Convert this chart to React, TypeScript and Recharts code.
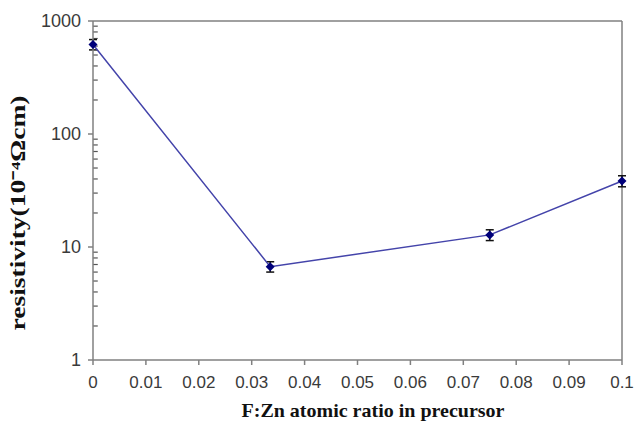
import {
  LineChart,
  Line,
  XAxis,
  YAxis,
  ErrorBar,
  ReferenceLine,
  Label,
} from 'recharts';

const ratio = [0, 0.0335, 0.075, 0.1];
const resistivity = [620, 6.7, 12.8, 38.4];
const resistivityErr = [65, 0.7, 1.4, 4.3];

const xTicks = [0, 0.01, 0.02, 0.03, 0.04, 0.05, 0.06, 0.07, 0.08, 0.09, 0.1];
const yMajorTicks = [1, 10, 100, 1000];
const yMinorSteps = [2, 3, 4, 5, 6, 7, 8, 9];

// minor log ticks between the decades
const yMinorTicks = yMajorTicks.slice(0, -1).flatMap((d) => yMinorSteps.map((s) => d * s));

const data = ratio.map((x, i) => ({
  x,
  rho: resistivity[i],
  err: resistivityErr[i],
}));

const AXIS_X = 93;
const axisColor = '#808080';
const tickFont = { fontFamily: 'Liberation Sans, Arial, sans-serif', fontSize: 17, fill: '#3a3a3a' };
const titleFont = { fontFamily: 'Liberation Serif, Times New Roman, serif', fontWeight: 700, fill: '#111' };

function Diamond(props: any) {
  const { cx, cy, index } = props;
  if (cx == null || cy == null) return null;
  const r = 4.5;
  return (
    <path
      key={`d-${index}`}
      d={`M${cx},${cy - r} L${cx + r},${cy} L${cx},${cy + r} L${cx - r},${cy} Z`}
      fill="#00007a"
    />
  );
}

export default function App() {
  return (
    <div style={{ position: 'absolute', left: 0, top: 0, width: 634, height: 428, background: '#fff' }}>
      <LineChart width={634} height={428} data={data} margin={{ top: 21, right: 12, left: 0, bottom: 0 }}>
        <XAxis
          dataKey="x"
          type="number"
          domain={[0, 0.1]}
          ticks={xTicks}
          tickFormatter={(v) => String(+Number(v).toFixed(2))}
          height={68}
          stroke={axisColor}
          strokeWidth={1.5}
          tickSize={5}
          tickMargin={11}
          tick={tickFont}
          interval={0}
        >
          <Label
            content={() => (
              <text
                x={373}
                y={417}
                textAnchor="middle"
                fontSize={19}
                textLength={263}
                lengthAdjust="spacingAndGlyphs"
                {...titleFont}
              >
                F:Zn atomic ratio in precursor
              </text>
            )}
          />
        </XAxis>
        <YAxis
          scale="log"
          domain={[1, 1000]}
          ticks={yMajorTicks}
          width={AXIS_X}
          stroke={axisColor}
          strokeWidth={1.5}
          tickSize={5}
          tickMargin={7}
          tick={{ ...tickFont, fontSize: 18 }}
          interval={0}
          allowDataOverflow
        >
          <Label
            content={() => (
              <text
                x={0}
                y={0}
                transform="translate(25 213) rotate(-90)"
                textAnchor="middle"
                fontSize={20}
                textLength={235}
                lengthAdjust="spacingAndGlyphs"
                {...titleFont}
              >
                resistivity(10⁻⁴Ωcm)
              </text>
            )}
          />
        </YAxis>
        {yMinorTicks.map((v) => (
          <ReferenceLine
            key={v}
            segment={[{ x: 0, y: v }, { x: 0.0009, y: v }]}
            stroke="#555"
            strokeWidth={1.2}
            ifOverflow="visible"
          />
        ))}
        <ReferenceLine y={1000} stroke={axisColor} strokeWidth={1.5} />
        <ReferenceLine x={0.1} stroke={axisColor} strokeWidth={1.5} />
        <Line
          dataKey="rho"
          stroke="#4444aa"
          strokeWidth={1.5}
          dot={<Diamond />}
          activeDot={false}
          isAnimationActive={false}
        >
          <ErrorBar dataKey="err" direction="y" width={4} stroke="#111" strokeWidth={1.5} />
        </Line>
      </LineChart>
    </div>
  );
}
